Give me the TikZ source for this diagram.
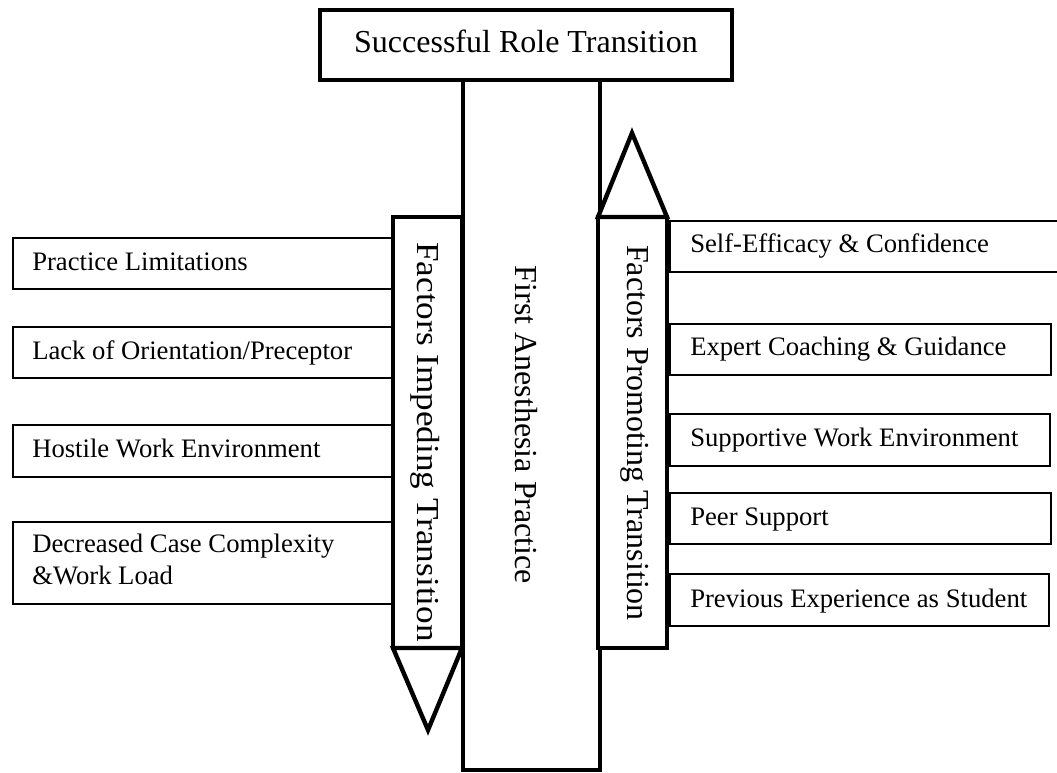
\documentclass[tikz,border=0pt]{standalone}
\usepackage{fontspec}
\setmainfont{Liberation Serif}
\begin{document}
\begin{tikzpicture}[x=0.75pt,y=-0.75pt,
  thickbox/.style={draw=black, line width=3.3pt, fill=white, line join=miter},
  sidebox/.style={draw=black, line width=1.4pt, fill=white, rectangle, inner sep=0pt, anchor=north west},
  sidetext/.style={anchor=base west, inner sep=0pt, font=\fontsize{20pt}{23.5pt}\selectfont, align=left},
  bigtext/.style={inner sep=0pt, font=\fontsize{24pt}{28pt}\selectfont},
  vtext/.style={inner sep=0pt, font=\fontsize{24pt}{28pt}\selectfont, rotate=-90, anchor=base}
]
\useasboundingbox (0,0) rectangle (1057,773);
\clip (0,0) rectangle (1057,773);

% left side boxes
\node[sidebox, minimum width=285.75pt, minimum height=38.25pt] (L1) at (12,237) {};
\node[sidebox, minimum width=285.75pt, minimum height=38.25pt] (L2) at (12,326) {};
\node[sidebox, minimum width=285.75pt, minimum height=39pt] (L3) at (12,424) {};
\node[sidebox, minimum width=285.75pt, minimum height=61.5pt] (L4) at (12,521) {};
\node[sidetext] (L1t) at (32,271) {Practice Limitations};
\node[sidetext] (L2t) at (32,360) {Lack of Orientation/Preceptor};
\node[sidetext] (L3t) at (32,458) {Hostile Work Environment};
\node[sidetext] (L4t) at (32,584) {Decreased Case Complexity\\\&Work Load};

% right side boxes
\node[sidebox, minimum width=295pt, minimum height=38.25pt] (R1) at (669,220) {};
\node[sidebox, minimum width=285.75pt, minimum height=38.25pt] (R2) at (669,323) {};
\node[sidebox, minimum width=285pt, minimum height=39pt] (R3) at (669,413) {};
\node[sidebox, minimum width=285.75pt, minimum height=38.25pt] (R4) at (669,492) {};
\node[sidebox, minimum width=284.25pt, minimum height=39pt] (R5) at (669,573) {};
\node[sidetext] (R1t) at (690,253) {Self-Efficacy \& Confidence};
\node[sidetext] (R2t) at (690,356) {Expert Coaching \& Guidance};
\node[sidetext] (R3t) at (690,447) {Supportive Work Environment};
\node[sidetext] (R4t) at (690,525) {Peer Support};
\node[sidetext] (R5t) at (690,607) {Previous Experience as Student};

% central column
\draw[thickbox] (463,80) rectangle (600,770);
\node[vtext] (C) at (515,425) {First Anesthesia Practice};

% impeding box and down triangle
\draw[thickbox] (393,217) rectangle (462,648);
\draw[thickbox] (393,648) -- (462,648) -- (428,730) -- cycle;
\node[vtext] (I) at (417,442) {\scalebox{1.1}[1]{Factors Impeding Transition}};

% promoting box and up triangle
\draw[thickbox] (598,217) rectangle (667,648);
\draw[thickbox] (598,217) -- (667,217) -- (632,133) -- cycle;
\node[vtext] (P) at (627,433) {Factors Promoting Transition};

% top box
\draw[thickbox] (320,10) rectangle (732,80);
\node[bigtext, anchor=base] (T) at (526,53) {Successful Role Transition};
\end{tikzpicture}
\end{document}
